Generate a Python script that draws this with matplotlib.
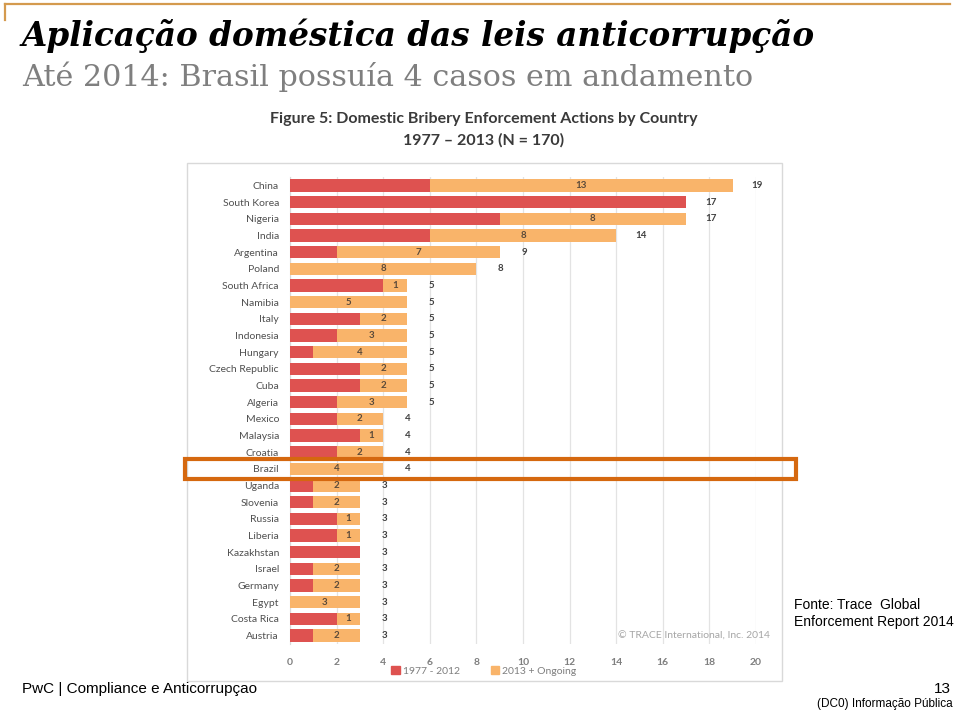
import matplotlib
matplotlib.use("Agg")
import matplotlib.pyplot as plt
from matplotlib.patches import Rectangle, Patch
from matplotlib.lines import Line2D

# =========================
# DATA
# =========================
countries = [
    "China", "South Korea", "Nigeria", "India", "Argentina", "Poland",
    "South Africa", "Namibia", "Italy", "Indonesia", "Hungary",
    "Czech Republic", "Cuba", "Algeria", "Mexico", "Malaysia", "Croatia",
    "Brazil", "Uganda", "Slovenia", "Russia", "Liberia", "Kazakhstan",
    "Israel", "Germany", "Egypt", "Costa Rica", "Austria",
]
cases_1977_2012 = [6, 17, 9, 6, 2, 0, 4, 0, 3, 2, 1, 3, 3, 2, 2, 3, 2,
                   0, 1, 1, 2, 2, 3, 1, 1, 0, 2, 1]
cases_2013_ongoing = [13, 0, 8, 8, 7, 8, 1, 5, 2, 3, 4, 2, 2, 3, 2, 1, 2,
                      4, 2, 2, 1, 1, 0, 2, 2, 3, 1, 2]
totals = [a + b for a, b in zip(cases_1977_2012, cases_2013_ongoing)]
x_ticks = list(range(0, 21, 2))
highlight = "Brazil"

RED = "#DE5250"
ORANGE = "#F9B46A"
DARK = "#404040"
CHART_FONT = "Lato"

# =========================
# FIGURE
# =========================
fig = plt.figure(figsize=(9.6, 7.13), dpi=100)
W, H = 960, 713


def fx(px):
    return px / W


def fy(py):
    return 1 - py / H


# top rule of the slide
fig.add_artist(Line2D([fx(5), fx(950)], [fy(4), fy(4)], color="#D49A4E", lw=1.6))
fig.add_artist(Line2D([fx(5), fx(5)], [fy(4), fy(20)], color="#D49A4E", lw=1.6))

fig.text(fx(22), fy(36), "Aplicação doméstica das leis anticorrupção",
         family="DejaVu Serif", weight="bold", style="italic", fontsize=23.5,
         color="black", va="center", ha="left")
fig.text(fx(22), fy(77), "Até 2014: Brasil possuía 4 casos em andamento",
         family="DejaVu Serif", fontsize=21.7, color="#7F7F7F",
         va="center", ha="left")

# chart header
fig.text(fx(484), fy(119), "Figure 5: Domestic Bribery Enforcement Actions by Country",
         family=CHART_FONT, weight="bold", fontsize=11.5, color="#3A3A3A",
         ha="center", va="center")
fig.text(fx(484), fy(140), "1977 – 2013 (N = 170)",
         family=CHART_FONT, weight="bold", fontsize=11.5, color="#3A3A3A",
         ha="center", va="center")

# white chart frame, behind the axes
fig.add_artist(Rectangle((fx(187), fy(681)), fx(782) - fx(187), fy(163) - fy(681),
                         facecolor="white", edgecolor="#D9D9D9", lw=1.0, zorder=-1))

# =========================
# BARS
# =========================
ax = fig.add_axes([fx(290), fy(644), fx(756) - fx(290), fy(177) - fy(644)])
ypos = list(range(len(countries)))
ax.barh(ypos, cases_1977_2012, height=0.74, color=RED, zorder=3)
ax.barh(ypos, cases_2013_ongoing, left=cases_1977_2012, height=0.74,
        color=ORANGE, zorder=3)

for i, (r, o, t) in enumerate(zip(cases_1977_2012, cases_2013_ongoing, totals)):
    if o > 0:
        ax.text(r + o / 2, i, str(o), ha="center", va="center",
                fontsize=7, weight="bold", color="#5A4A3A", family=CHART_FONT, zorder=4)
    ax.text(t + 1.05, i, str(t), ha="center", va="center",
            fontsize=7, weight="bold", color=DARK, family=CHART_FONT, zorder=4)

ax.set_xlim(0, 20)
ax.set_ylim(len(countries) - 0.5, -0.5)
ax.set_xticks(x_ticks)
ax.set_xticklabels([str(v) for v in x_ticks], family=CHART_FONT, fontsize=7.5,
                   color="#7F7F7F", weight="bold")
ax.set_yticks(ypos)
ax.set_yticklabels(countries, family=CHART_FONT, fontsize=7.5, color="#505050")
ax.tick_params(axis="both", length=0)
ax.tick_params(axis="x", pad=10)
ax.tick_params(axis="y", pad=8)
ax.grid(axis="x", color="#E3E3E3", lw=0.9, zorder=0)
for side in ["top", "right", "bottom"]:
    ax.spines[side].set_visible(False)
ax.spines["left"].set_color("#D9D9D9")
ax.set_facecolor("none")

ax.text(20.6, 27.05, "© TRACE International, Inc. 2014", ha="right", va="center",
        fontsize=7.5, color="#A6A6A6", family=CHART_FONT)

leg = fig.legend(
    handles=[Patch(color=RED, label="1977 - 2012"),
             Patch(color=ORANGE, label="2013 + Ongoing")],
    loc="center", bbox_to_anchor=(fx(484), fy(671)), ncol=2, frameon=False,
    prop={"family": CHART_FONT, "size": 7.5}, handlelength=0.8, handleheight=0.8,
    handletextpad=0.3, columnspacing=3.0)
for t in leg.get_texts():
    t.set_color("#7F7F7F")

# highlight box around Brazil
bi = countries.index(highlight)
to_fig = fig.transFigure.inverted()
y0 = to_fig.transform(ax.transData.transform((0, bi + 0.62)))[1]
y1 = to_fig.transform(ax.transData.transform((0, bi - 0.62)))[1]
fig.add_artist(Rectangle((fx(185), y0), fx(796) - fx(185), y1 - y0,
                         facecolor="none", edgecolor="#D5680F", lw=3.0, zorder=10))

# =========================
# SLIDE TEXT
# =========================
fig.text(fx(794), fy(605), "Fonte: Trace  Global", family="Liberation Sans",
         fontsize=10, color="black", va="center", ha="left")
fig.text(fx(794), fy(622), "Enforcement Report 2014", family="Liberation Sans",
         fontsize=10, color="black", va="center", ha="left")
fig.text(fx(22), fy(689), "PwC | Compliance e Anticorrupçao", family="Liberation Sans",
         fontsize=11, color="black", va="center", ha="left")
fig.text(fx(951), fy(689), "13", family="Liberation Sans",
         fontsize=11, color="black", va="center", ha="right")
fig.text(fx(953), fy(704), "(DC0) Informação Pública", family="Liberation Sans",
         fontsize=8.5, color="black", va="center", ha="right")

fig.savefig("out.png", dpi=100)
